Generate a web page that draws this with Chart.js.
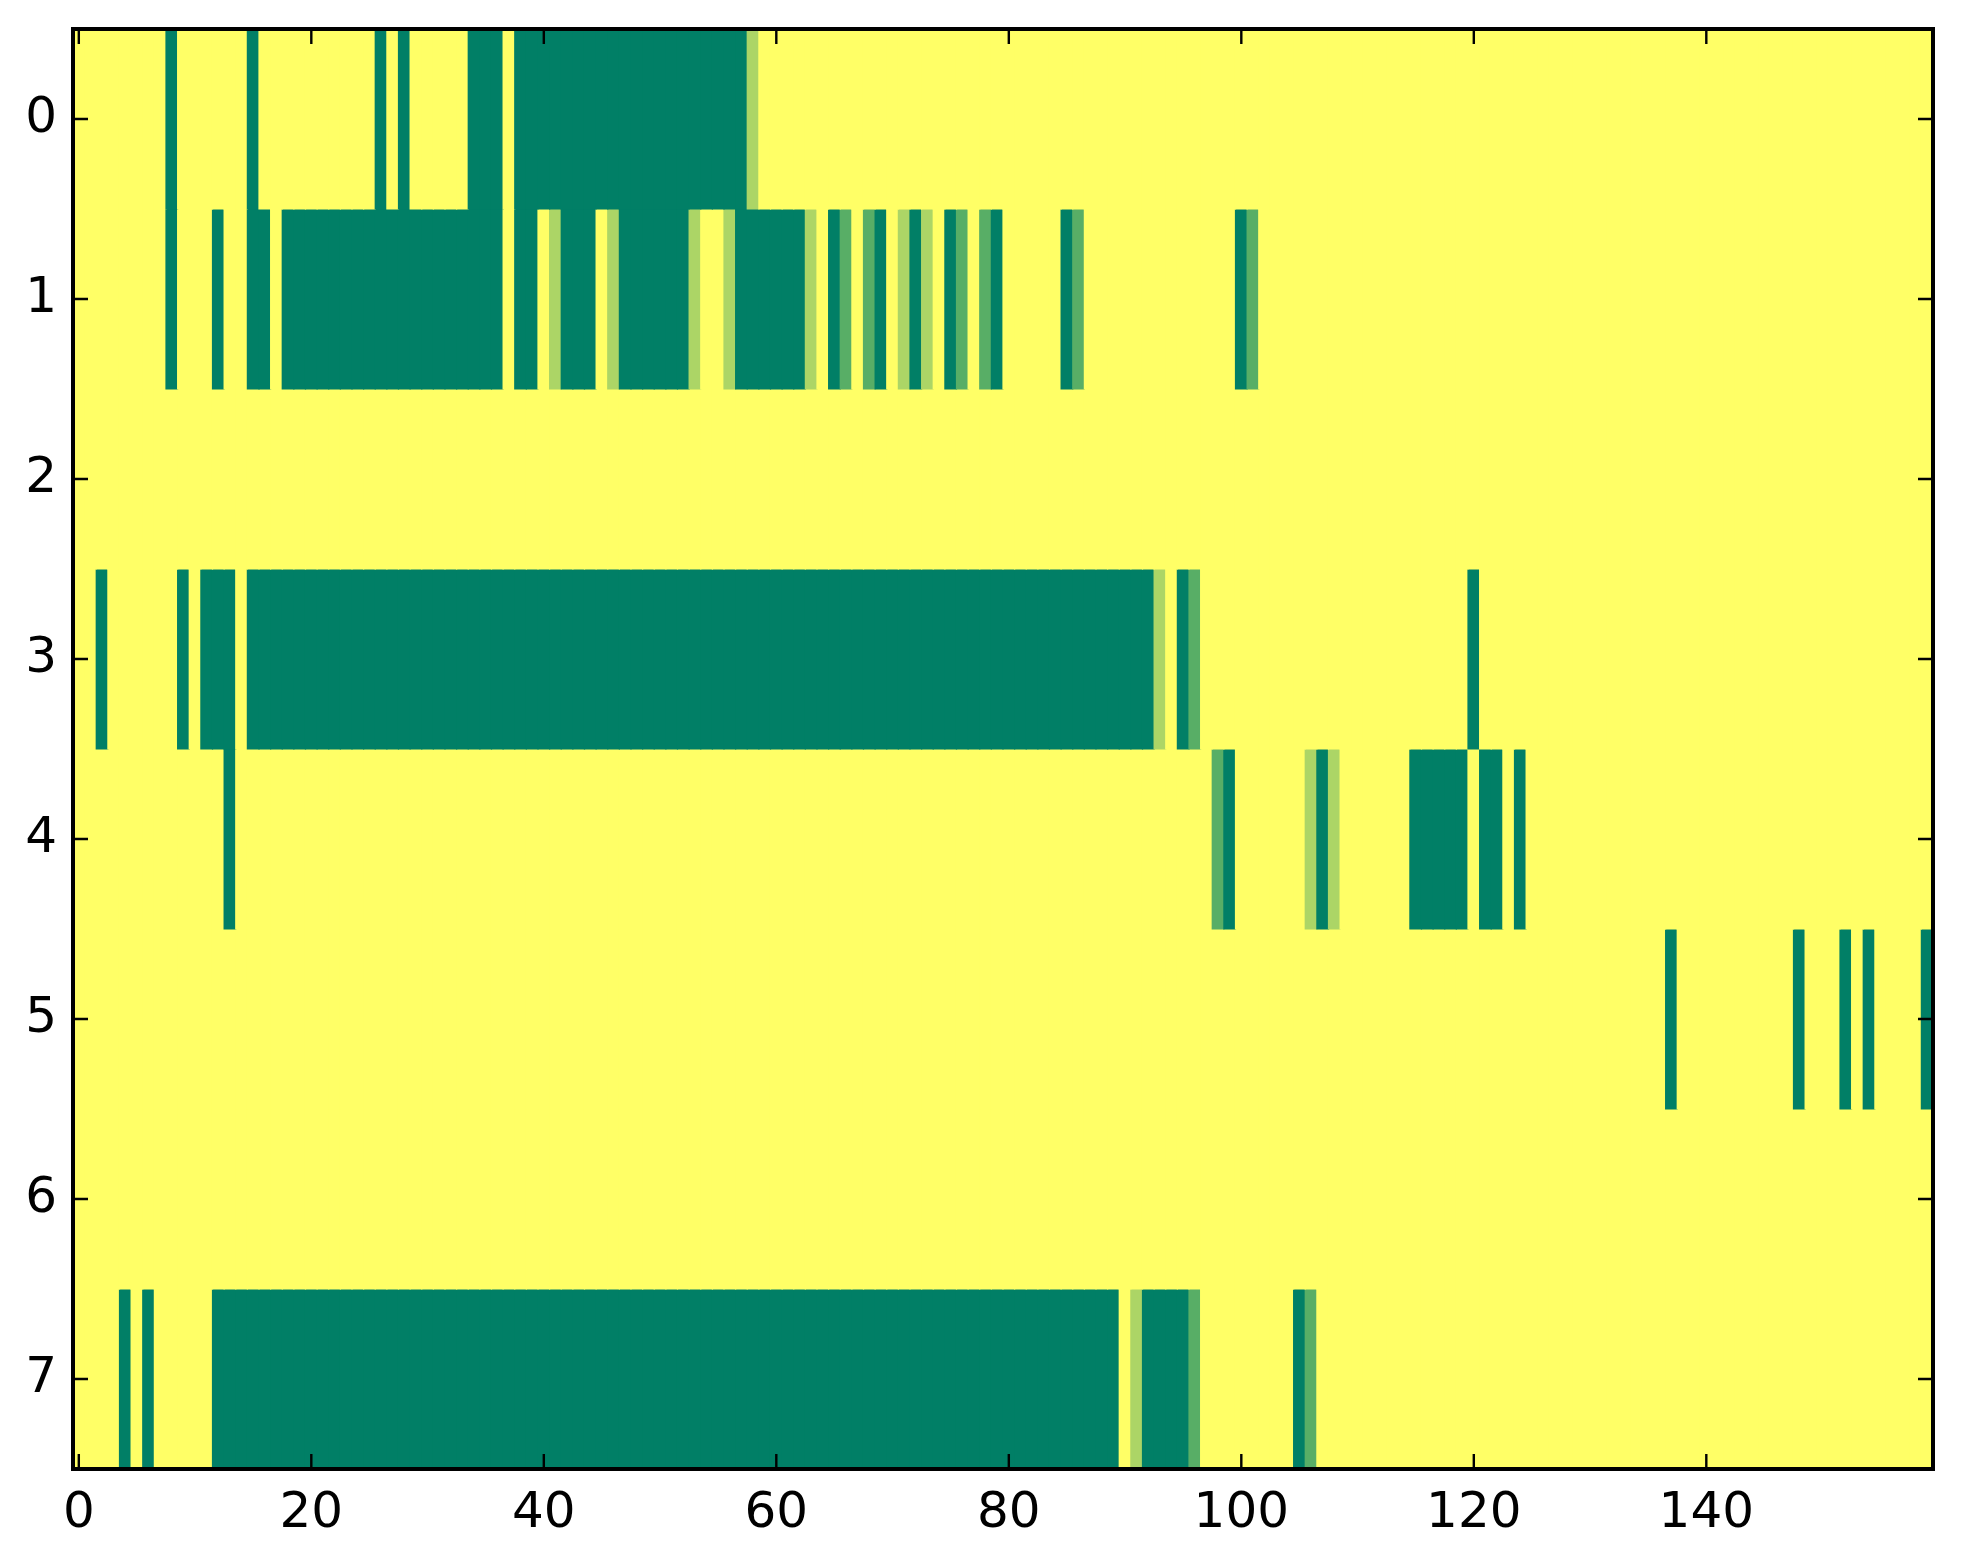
<!DOCTYPE html>
<html>
<head>
<meta charset="utf-8">
<script src="https://cdn.jsdelivr.net/npm/chart.js@4.4.1/dist/chart.umd.min.js"></script>
<style>
    body { margin: 0; background: #fff; }
    #wrap { width: 1963px; height: 1564px; }
</style>
</head>
<body>
<div id="wrap"><canvas id="heatChart"></canvas></div>
<script>
// one string per row, 160 cells, grouped by 10 columns
// 0 = dark green, 1 = mid green, 2 = light green, 3 = yellow
var row0 = "3333333303 3333303333 3333330303 3333000300 0000000000 0000000023 3333333333 3333333333 3333333333 3333333333 3333333333 3333333333 3333333333 3333333333 3333333333 3333333333";
var row1 = "3333333303 3303300300 0000000000 0000000300 3200032000 0002332000 0002301310 3202301310 3333301333 3333333333 0133333333 3333333333 3333333333 3333333333 3333333333 3333333333";
var row2 = "3333333333 3333333333 3333333333 3333333333 3333333333 3333333333 3333333333 3333333333 3333333333 3333333333 3333333333 3333333333 3333333333 3333333333 3333333333 3333333333";
var row3 = "3303333330 3000300000 0000000000 0000000000 0000000000 0000000000 0000000000 0000000000 0000000000 0002301333 3333333333 3333333333 0333333333 3333333333 3333333333 3333333333";
var row4 = "3333333333 3330333333 3333333333 3333333333 3333333333 3333333333 3333333333 3333333333 3333333333 3333333310 3333332023 3333300000 3003033333 3333333333 3333333333 3333333333";
var row5 = "3333333333 3333333333 3333333333 3333333333 3333333333 3333333333 3333333333 3333333333 3333333333 3333333333 3333333333 3333333333 3333333333 3333333033 3333333303 3303033330";
var row6 = "3333333333 3333333333 3333333333 3333333333 3333333333 3333333333 3333333333 3333333333 3333333333 3333333333 3333333333 3333333333 3333333333 3333333333 3333333333 3333333333";
var row7 = "3333030333 3300000000 0000000000 0000000000 0000000000 0000000000 0000000000 0000000000 0000000000 3200001333 3333301333 3333333333 3333333333 3333333333 3333333333 3333333333";

var xTicks = [0, 20, 40, 60, 80, 100, 120, 140];
var yTicks = [0, 1, 2, 3, 4, 5, 6, 7];

// summer colormap at the four levels seen in the picture
var palette = ['#017f66', '#58ae66', '#acd566', '#ffff66'];

var rows = [row0, row1, row2, row3, row4, row5, row6, row7];

var datasets = [];
for (var r = 0; r < rows.length; r++) {
    var vals = rows[r].replace(/ /g, '').split('').map(Number);
    var pts = [], cols = [];
    for (var c = 0; c < vals.length; c++) {
        pts.push({ x: c, y: [r - 0.5, r + 0.5], v: vals[c] });
        cols.push(palette[vals[c]]);
    }
    datasets.push({
        label: 'row ' + r,
        data: pts,
        backgroundColor: cols,
        borderWidth: 0,
        inflateAmount: 0.6,
        grouped: false,
        barPercentage: 1,
        categoryPercentage: 1
    });
}

// matplotlib style frame with inward ticks on every side
var framePlugin = {
    id: 'frame',
    afterDatasetsDraw: function (chart) {
        var ctx = chart.ctx, a = chart.chartArea;
        var xs = chart.scales.x, ys = chart.scales.y;
        var len = 15;
        ctx.save();
        ctx.strokeStyle = '#000';
        ctx.lineWidth = 2.4;
        ctx.beginPath();
        xTicks.forEach(function (t) {
            var px = xs.getPixelForValue(t);
            ctx.moveTo(px, a.bottom); ctx.lineTo(px, a.bottom - len);
            ctx.moveTo(px, a.top); ctx.lineTo(px, a.top + len);
        });
        yTicks.forEach(function (t) {
            var py = ys.getPixelForValue(t);
            ctx.moveTo(a.left, py); ctx.lineTo(a.left + len, py);
            ctx.moveTo(a.right, py); ctx.lineTo(a.right - len, py);
        });
        ctx.stroke();
        ctx.lineWidth = 4;
        ctx.strokeRect(a.left, a.top, a.right - a.left, a.bottom - a.top);
        ctx.restore();
    }
};

function noPad(scale) {
    scale.paddingTop = 0;
    scale.paddingBottom = 0;
    scale.paddingLeft = 0;
    scale.paddingRight = 0;
}

var ctx = document.getElementById('heatChart').getContext('2d');
var heatChart = new Chart(ctx, {
    type: 'bar',
    data: { datasets: datasets },
    options: {
        responsive: true,
        maintainAspectRatio: false,
        animation: false,
        devicePixelRatio: 1,
        layout: { padding: { top: 29, right: 30, left: 0, bottom: 0 } },
        plugins: {
            legend: { display: false },
            tooltip: { enabled: false }
        },
        scales: {
            x: {
                type: 'linear',
                min: -0.5,
                max: 159.5,
                offset: false,
                grid: { display: false, drawTicks: false },
                border: { display: false },
                afterBuildTicks: function (scale) {
                    scale.ticks = xTicks.map(function (v) { return { value: v }; });
                },
                afterFit: function (scale) { scale.height = 95; noPad(scale); },
                ticks: {
                    autoSkip: false,
                    maxRotation: 0,
                    minRotation: 0,
                    padding: 15,
                    color: '#000',
                    font: { family: 'DejaVu Sans', size: 50 }
                }
            },
            y: {
                type: 'linear',
                reverse: true,
                min: -0.5,
                max: 7.5,
                grid: { display: false, drawTicks: false },
                border: { display: false },
                afterBuildTicks: function (scale) {
                    scale.ticks = yTicks.map(function (v) { return { value: v }; });
                },
                afterFit: function (scale) { scale.width = 73; noPad(scale); },
                ticks: {
                    autoSkip: false,
                    padding: 16,
                    color: '#000',
                    font: { family: 'DejaVu Sans', size: 50 }
                }
            }
        }
    },
    plugins: [framePlugin]
});
</script>
</body>
</html>
